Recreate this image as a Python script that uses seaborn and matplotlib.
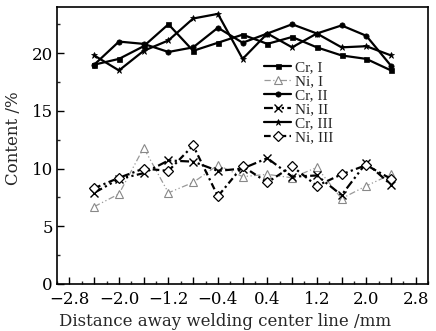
import numpy as np
import pandas as pd
import matplotlib
matplotlib.use("Agg")
import matplotlib.pyplot as plt
import seaborn as sns
from matplotlib.ticker import MultipleLocator, FixedLocator

# ---- data ----
distance = [-2.4, -2.0, -1.6, -1.2, -0.8, -0.4, 0.0, 0.4, 0.8, 1.2, 1.6, 2.0, 2.4]

cr_1 = [19.0, 19.5, 20.6, 22.5, 20.2, 20.9, 21.6, 20.8, 21.4, 20.5, 19.8, 19.5, 18.5]
ni_1 = [6.7, 7.8, 11.8, 7.9, 8.8, 10.3, 9.3, 9.5, 9.2, 10.1, 7.4, 8.5, 9.5]
cr_2 = [19.0, 21.0, 20.8, 20.1, 20.5, 22.2, 20.9, 21.7, 22.5, 21.7, 22.4, 21.5, 18.9]
ni_2 = [7.9, 9.1, 9.6, 10.7, 10.6, 9.8, 10.0, 10.9, 9.3, 9.4, 7.7, 10.5, 8.6]
cr_3 = [19.8, 18.5, 20.2, 21.1, 23.0, 23.4, 19.5, 21.7, 20.5, 21.7, 20.5, 20.6, 19.8]
ni_3 = [8.3, 9.2, 10.0, 9.8, 12.0, 7.6, 10.2, 8.8, 10.2, 8.5, 9.5, 10.3, 9.1]

series_names = ["Cr, I", "Ni, I", "Cr, II", "Ni, II", "Cr, III", "Ni, III"]
series_values = [cr_1, ni_1, cr_2, ni_2, cr_3, ni_3]

x_tick_labels = ["\u22122.8", "\u22122.0", "\u22121.2", "\u22120.4", "0.4", "1.2", "2.0", "2.8"]

# ---- styles ----
styles = {
    "Cr, I": dict(color="black", lw=1.6, ls="-", marker="s", ms=3.6, mfc="black", mec="black"),
    "Ni, I": dict(color="#999999", lw=0.9, ls=(0, (5, 2, 1, 2, 1, 2)), marker="^", ms=6,
                  mfc="white", mec="#888888", mew=0.8),
    "Cr, II": dict(color="black", lw=1.6, ls="-", marker="o", ms=3.8, mfc="black", mec="black"),
    "Ni, II": dict(color="black", lw=1.6, ls=(0, (4, 1.5, 1, 1.5, 1, 1.5)), marker="x", ms=5.5,
                   mfc="black", mec="black", mew=1.0),
    "Cr, III": dict(color="black", lw=1.6, ls="-", marker="*", ms=5, mfc="black", mec="black"),
    "Ni, III": dict(color="black", lw=1.6, ls=(0, (3, 1.5, 1, 1.5)), marker="D", ms=4.6,
                    mfc="white", mec="black", mew=0.9),
}

sns.set_style("ticks")
plt.rcParams["font.family"] = ["DejaVu Serif"]

fig = plt.figure(figsize=(4.36, 3.31), dpi=100)
ax = fig.add_axes([0.131, 0.142, 0.851, 0.837])

for name, values in zip(series_names, series_values):
    df = pd.DataFrame({"Distance": distance, "Content": values})
    st = styles[name]
    sns.lineplot(
        data=df,
        x="Distance",
        y="Content",
        ax=ax,
        label=name,
        color=st["color"],
        linewidth=st["lw"],
        linestyle=st["ls"],
        marker=st["marker"],
        markersize=st["ms"],
        markerfacecolor=st["mfc"],
        markeredgecolor=st["mec"],
        markeredgewidth=st.get("mew", 0.5),
    )

ax.set_xlim(-3.0, 3.0)
ax.set_ylim(0, 24)

# x ticks: long every 0.4, labels every 0.8, short every 0.2
major_x = np.round(np.arange(-2.8, 2.81, 0.4), 1)
ax.xaxis.set_major_locator(FixedLocator(major_x))
labels = []
j = 0
for i, v in enumerate(major_x):
    if i % 2 == 0:
        labels.append(x_tick_labels[j])
        j += 1
    else:
        labels.append("")
ax.set_xticklabels(labels)
ax.xaxis.set_minor_locator(FixedLocator(np.round(np.arange(-3.0, 3.01, 0.2), 1)))

ax.yaxis.set_major_locator(MultipleLocator(5))
ax.yaxis.set_minor_locator(MultipleLocator(2.5))

ax.tick_params(axis="both", which="major", direction="in", length=5, width=1,
               labelsize=12, colors="black")
ax.tick_params(axis="x", which="major", pad=5)
ax.tick_params(axis="y", which="major", pad=3)
ax.tick_params(axis="both", which="minor", direction="in", length=2.5, width=1)

for sp in ax.spines.values():
    sp.set_visible(True)
    sp.set_linewidth(1.2)
    sp.set_color("black")

ax.set_xlabel("Distance away welding center line /mm", fontsize=12)
ax.set_ylabel("Content /%", fontsize=12)
ax.xaxis.set_label_coords(0.453, -0.104)
ax.yaxis.set_label_coords(-0.094, 0.527)

ax.legend(loc="upper left", bbox_to_anchor=(0.53, 0.845), frameon=False,
          prop={"family": "Liberation Serif", "size": 11},
          handlelength=1.75, handletextpad=0.25, labelspacing=0.02, borderpad=0.2)

fig.savefig("out.png", dpi=100)
